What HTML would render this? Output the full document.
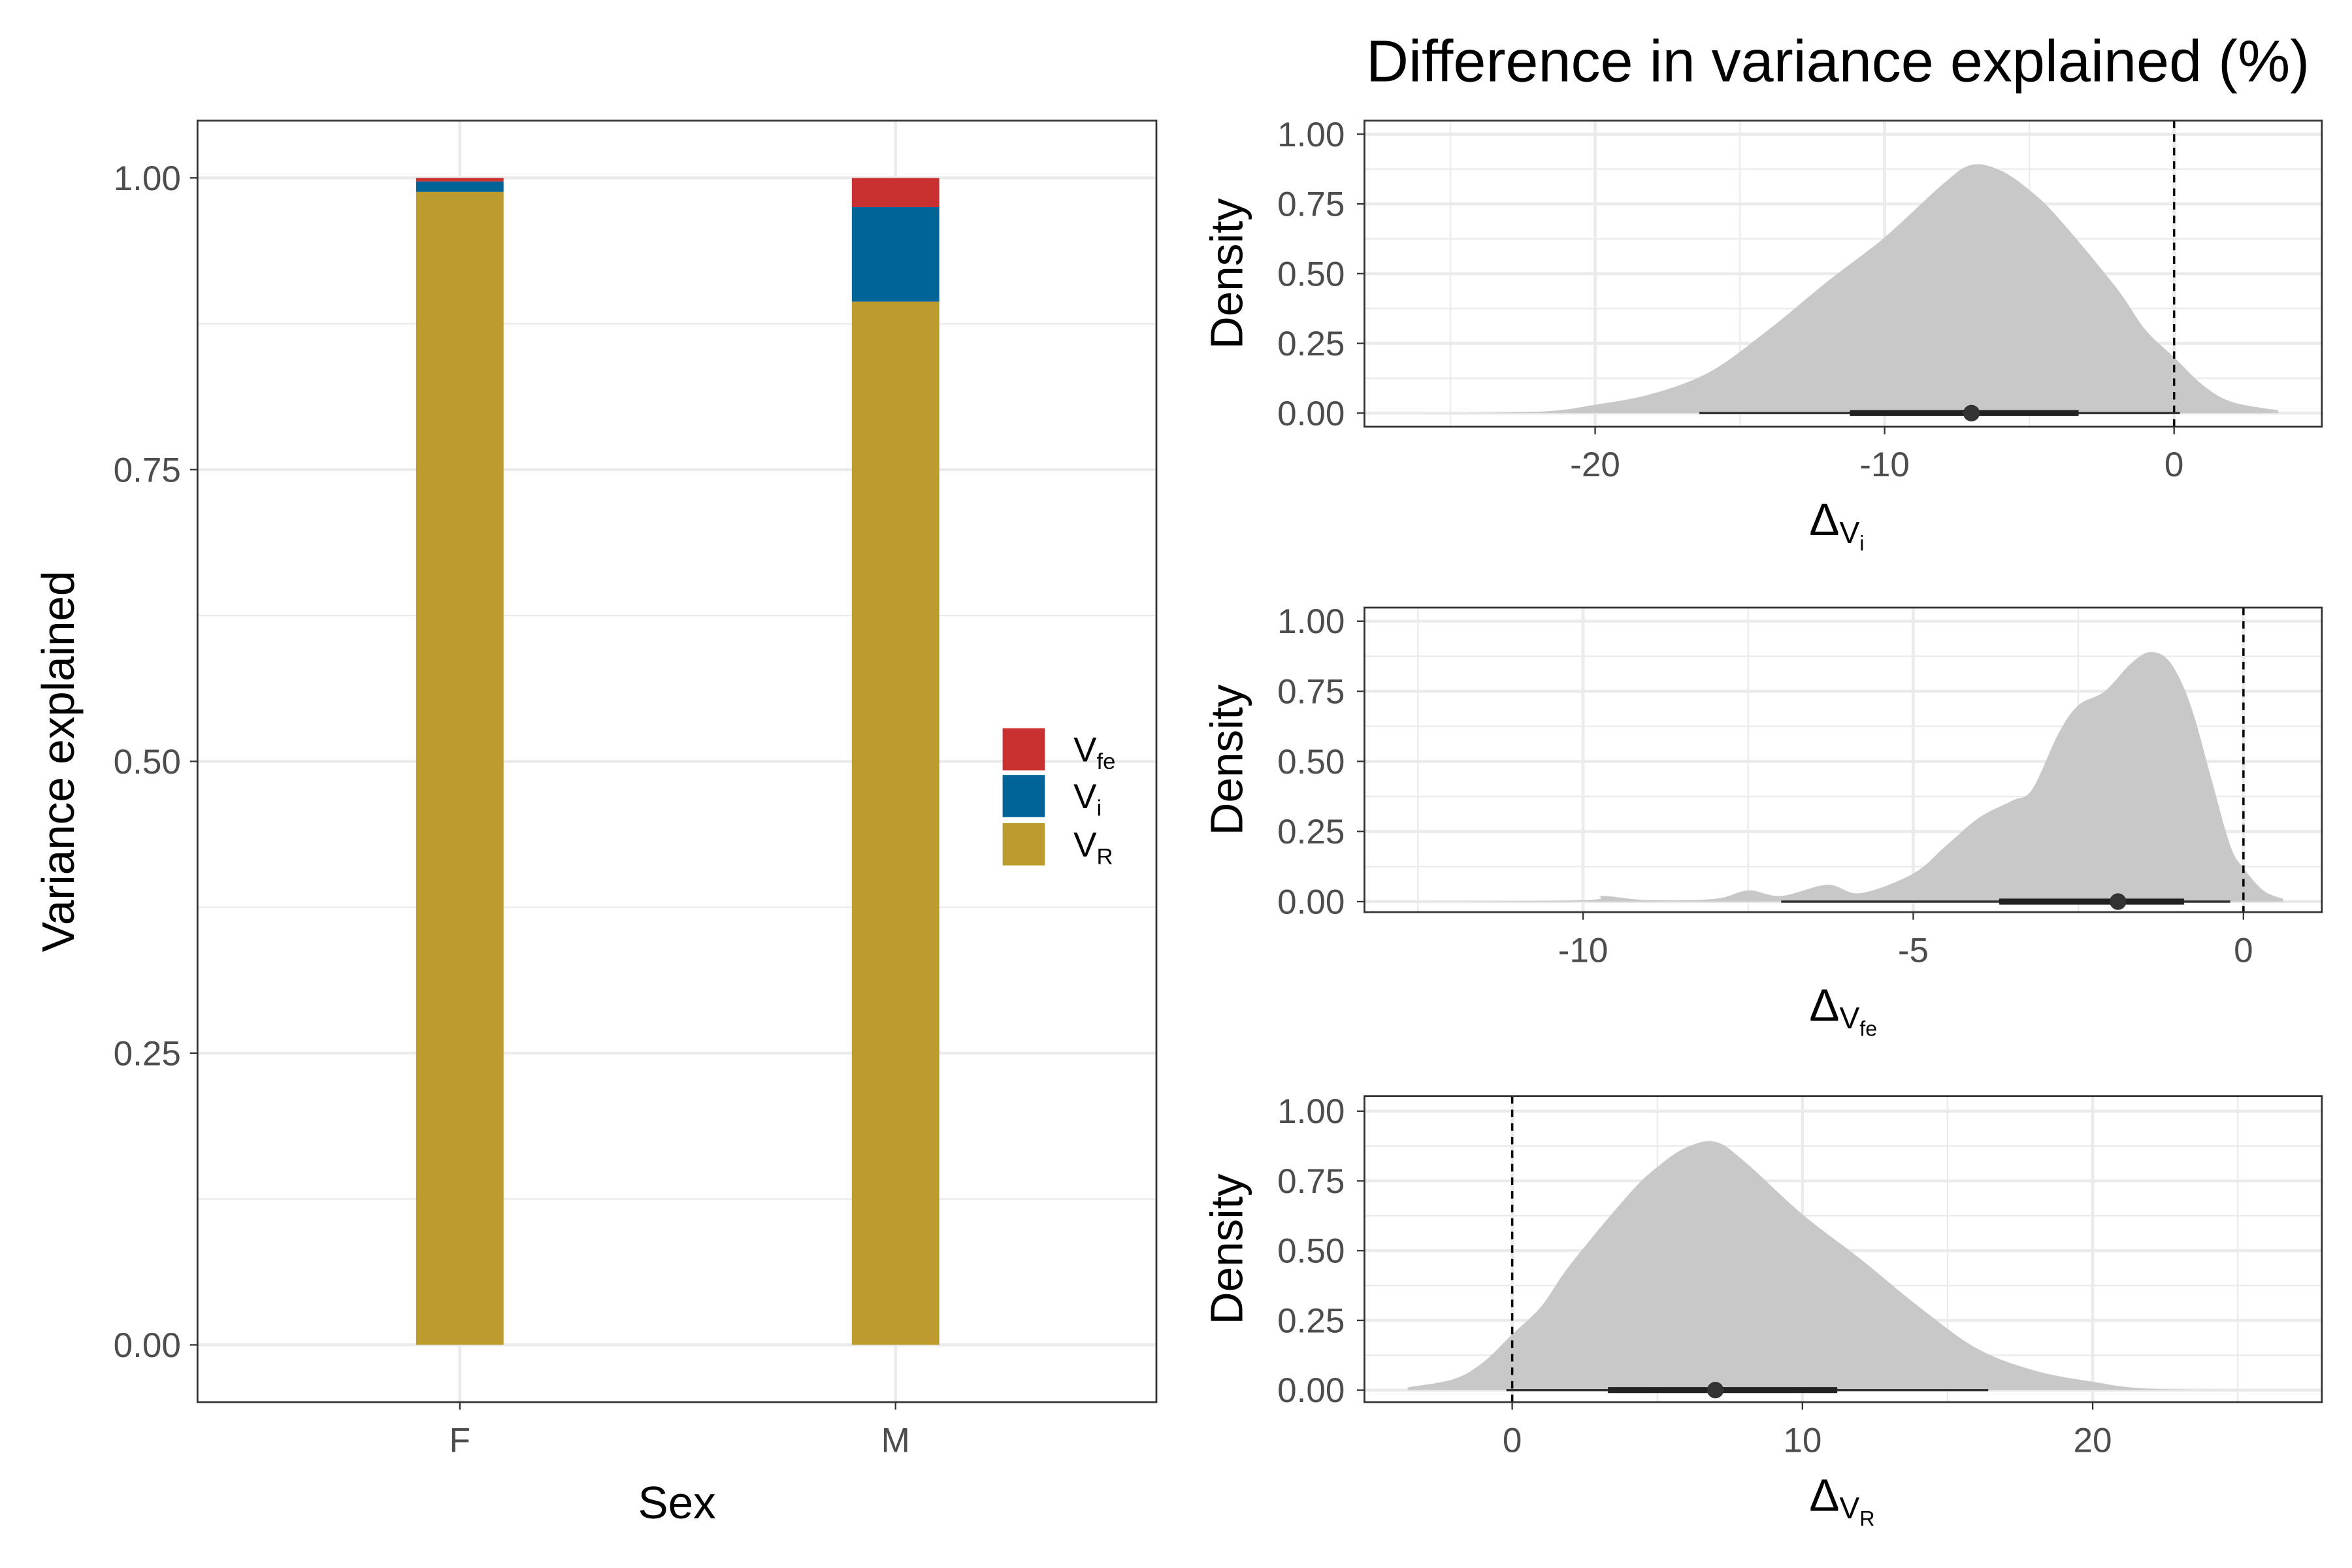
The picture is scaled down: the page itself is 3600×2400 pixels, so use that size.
<!DOCTYPE html>
<html><head><meta charset="utf-8"><style>
html,body{margin:0;padding:0;background:#fff}
svg{display:block}
text{font-family:"Liberation Sans",sans-serif}
</style></head><body>
<svg id="chart" width="3600" height="2400" viewBox="0 0 1560 1040" xmlns="http://www.w3.org/2000/svg">
<rect width="1560" height="1040" fill="#fff"/>
<g id="left"></g><g id="right"></g>
</svg>
<script>
const NS="http://www.w3.org/2000/svg";
const sexes=["F","M"];
const compNames=["VR","Vi","Vfe"];
const vR=[0.988,0.894];
const vI=[0.009,0.081];
const vFe=[0.003,0.025];
const leftTicks=[0,0.25,0.5,0.75,1];
const d1x=[-26.5,-22,-20,-18,-16,-14,-12,-10,-8,-7,-6,-5,-4,-2,-1,0,1,2,3.6];
const d1y=[0,0.005,0.03,0.07,0.15,0.3,0.47,0.63,0.82,0.89,0.87,0.8,0.7,0.45,0.3,0.2,0.1,0.04,0.01];
const d2x=[-12.7,-10,-9.7,-9,-8,-7.5,-7,-6.3,-5.8,-5,-4.5,-4,-3.5,-3.2,-2.8,-2.5,-2.1,-1.7,-1.4,-1.1,-0.8,-0.5,-0.2,0,0.3,0.6];
const d2y=[0,0.005,0.02,0.005,0.01,0.04,0.02,0.06,0.03,0.1,0.2,0.3,0.36,0.4,0.6,0.7,0.75,0.85,0.89,0.85,0.7,0.45,0.2,0.12,0.04,0.01];
const d3x=[-3.6,-2,-1,0,1,2,4,5,6,7,8,10,12,14,16,18,20,22,26.5];
const d3y=[0.01,0.04,0.1,0.2,0.3,0.45,0.7,0.8,0.87,0.89,0.82,0.63,0.47,0.3,0.15,0.07,0.03,0.005,0];
const intervals=[[-16.4,-11.2,-7,-3.3,0.2],[-7,-3.7,-1.9,-0.9,-0.2],[-0.2,3.3,7,11.2,16.4]];
const xTicks=[[-20,-10,0],[-10,-5,0],[0,10,20]];
const dTicks=[0,0.25,0.5,0.75,1];

function el(tag,attrs,parent,name,txt){const e=document.createElementNS(NS,tag);for(const k in attrs)e.setAttribute(k,attrs[k]);


if(txt!==undefined)e.textContent=txt;parent.appendChild(e);return e;}

const TF=23, AF=30;
// LEFT
const L=document.getElementById('left');
const ly=v=>892-774*v;
const lx={F:305,M:594};
el('rect',{x:131,y:80,width:636,height:850,fill:'#fff'},L,'left-panel-bg');
for(let v=-0.125;v<=1.13;v+=0.25){if(ly(v)>80&&ly(v)<930)el('line',{x1:131,x2:767,y1:ly(v),y2:ly(v),stroke:'#ebebeb','stroke-width':1},L,'minor-gridline');}
leftTicks.forEach(v=>{el('line',{x1:131,x2:767,y1:ly(v),y2:ly(v),stroke:'#ebebeb','stroke-width':2},L,'major-gridline');
el('line',{x1:126,x2:131,y1:ly(v),y2:ly(v),stroke:'#333'},L,'y-tick');
el('text',{x:120,y:ly(v)+8,'text-anchor':'end','font-size':TF,fill:'#4d4d4d'},L,'y-tick-label',v.toFixed(2));});
sexes.forEach(s=>{el('line',{x1:lx[s],x2:lx[s],y1:80,y2:930,stroke:'#ebebeb','stroke-width':2},L,'x-gridline');
el('line',{x1:lx[s],x2:lx[s],y1:930,y2:935,stroke:'#333'},L,'x-tick');
el('text',{x:lx[s],y:963,'text-anchor':'middle','font-size':TF,fill:'#4d4d4d'},L,'x-tick-label',s);});
const cols=['#BE9B2E','#006496','#C8312F'];
sexes.forEach((s,i)=>{let base=0;[vR[i],vI[i],vFe[i]].forEach((v,j)=>{
el('rect',{x:lx[s]-29,y:ly(base+v),width:58,height:ly(base)-ly(base+v),fill:cols[j]},L,'bar-'+s+'-'+compNames[j]);base+=v;});});
el('rect',{x:131,y:80,width:636,height:850,fill:'none',stroke:'#333','stroke-width':1.2},L,'left-panel-border');
el('text',{x:449,y:1007,'text-anchor':'middle','font-size':AF},L,'x-axis-title','Sex');
el('text',{x:0,y:0,transform:'translate(49,505) rotate(-90)','text-anchor':'middle','font-size':AF},L,'y-axis-title','Variance explained');
const lg=[['#C8312F','V','fe',483],['#006496','V','i',514],['#BE9B2E','V','R',546]];
lg.forEach(l=>{el('rect',{x:665,y:l[3],width:28,height:28,fill:l[0]},L,'legend-key');
const t=el('text',{x:712,y:l[3]+22,'font-size':TF},L,'legend-label');
const a=document.createElementNS(NS,'tspan');a.textContent=l[1];t.appendChild(a);
const b=document.createElementNS(NS,'tspan');b.setAttribute('font-size',15);b.setAttribute('dy',5);b.textContent=l[2];t.appendChild(b);});

// RIGHT
const R=document.getElementById('right');
el('text',{x:1219,y:54,'text-anchor':'middle','font-size':39},R,'figure-title','Difference in variance explained (%)');
const panels=[
 {top:80,bot:283,y0:274,y1:89,xa:-20,pa:1058,xb:0,pb:1442,dx:d1x,dy:d1y,minor:[-25,-15,-5],sub:'i'},
 {top:403,bot:605,y0:598,y1:412,xa:-10,pa:1050,xb:0,pb:1488,dx:d2x,dy:d2y,minor:[-12.5,-7.5,-2.5],sub:'fe'},
 {top:727,bot:930,y0:922,y1:737,xa:0,pa:1003,xb:20,pb:1388,dx:d3x,dy:d3y,minor:[5,15,25],sub:'R'}];
panels.forEach((p,k)=>{
 const g=el('g',{},R,'density-panel-'+(k+1));
 const X=v=>p.pa+(v-p.xa)*(p.pb-p.pa)/(p.xb-p.xa);
 const Y=v=>p.y0-(p.y0-p.y1)*v;
 el('rect',{x:905,y:p.top,width:635,height:p.bot-p.top,fill:'#fff'},g,'panel-bg');
 [0.125,0.375,0.625,0.875].forEach(v=>el('line',{x1:905,x2:1540,y1:Y(v),y2:Y(v),stroke:'#ebebeb',"stroke-width":1},g,'minor-gridline'));
 p.minor.forEach(v=>{if(X(v)>905&&X(v)<1540)el('line',{x1:X(v),x2:X(v),y1:p.top,y2:p.bot,stroke:'#ebebeb'},g,'minor-gridline');});
 dTicks.forEach(v=>{el('line',{x1:905,x2:1540,y1:Y(v),y2:Y(v),stroke:'#ebebeb','stroke-width':2},g,'major-gridline');
  el('line',{x1:900,x2:905,y1:Y(v),y2:Y(v),stroke:'#333'},g,'y-tick');
  el('text',{x:892,y:Y(v)+8,'text-anchor':'end','font-size':TF,fill:'#4d4d4d'},g,'y-tick-label',v.toFixed(2));});
 xTicks[k].forEach(v=>{el('line',{x1:X(v),x2:X(v),y1:p.top,y2:p.bot,stroke:'#ebebeb','stroke-width':2},g,'major-gridline');
  el('line',{x1:X(v),x2:X(v),y1:p.bot,y2:p.bot+5,stroke:'#333'},g,'x-tick');
  el('text',{x:X(v),y:p.bot+33,'text-anchor':'middle','font-size':TF,fill:'#4d4d4d'},g,'x-tick-label',String(v));});
 // smooth path (Catmull-Rom)
 const pts=p.dx.map((x,i)=>[X(x),Y(p.dy[i])]);
 let d='M'+pts[0][0]+','+Y(0)+' L'+pts[0][0]+','+pts[0][1];
 for(let i=0;i<pts.length-1;i++){const p0=pts[Math.max(0,i-1)],p1=pts[i],p2=pts[i+1],p3=pts[Math.min(pts.length-1,i+2)];
  const c1=[p1[0]+(p2[0]-p0[0])/6,p1[1]+(p2[1]-p0[1])/6],c2=[p2[0]-(p3[0]-p1[0])/6,p2[1]-(p3[1]-p1[1])/6];
  d+=' C'+c1[0]+','+Math.min(c1[1],p.y0)+' '+c2[0]+','+Math.min(c2[1],p.y0)+' '+p2[0]+','+p2[1];}
 d+=' L'+pts[pts.length-1][0]+','+Y(0)+' Z';
 el('path',{d:d,fill:'#c8c8c8',stroke:'none'},g,'density-area');
 el('line',{x1:X(0),x2:X(0),y1:p.top,y2:p.bot,stroke:'#000','stroke-width':1.5,'stroke-dasharray':'5,4'},g,'zero-reference-line');
 const iv=intervals[k];
 el('line',{x1:X(iv[0]),x2:X(iv[4]),y1:p.y0,y2:p.y0,stroke:'#333','stroke-width':1.5},g,'interval-95');
 el('line',{x1:X(iv[1]),x2:X(iv[3]),y1:p.y0,y2:p.y0,stroke:'#222','stroke-width':4},g,'interval-66');
 el('circle',{cx:X(iv[2]),cy:p.y0,r:5.5,fill:'#333'},g,'point-estimate');
 el('rect',{x:905,y:p.top,width:635,height:p.bot-p.top,fill:'none',stroke:'#333','stroke-width':1.2},g,'panel-border');
 el('text',{x:0,y:0,transform:'translate(824,'+((p.top+p.bot)/2)+') rotate(-90)','text-anchor':'middle','font-size':AF},g,'y-axis-title','Density');
 const t=el('text',{x:1200,y:p.bot+72,'font-size':AF},g,'x-axis-title');
 const a=document.createElementNS(NS,'tspan');a.textContent='Δ';t.appendChild(a);
 const b=document.createElementNS(NS,'tspan');b.setAttribute('font-size',20);b.setAttribute('dy',5);b.textContent='V';t.appendChild(b);
 const c=document.createElementNS(NS,'tspan');c.setAttribute('font-size',14);c.setAttribute('dy',5);c.textContent=p.sub;t.appendChild(c);
});
</script>
</body></html>
